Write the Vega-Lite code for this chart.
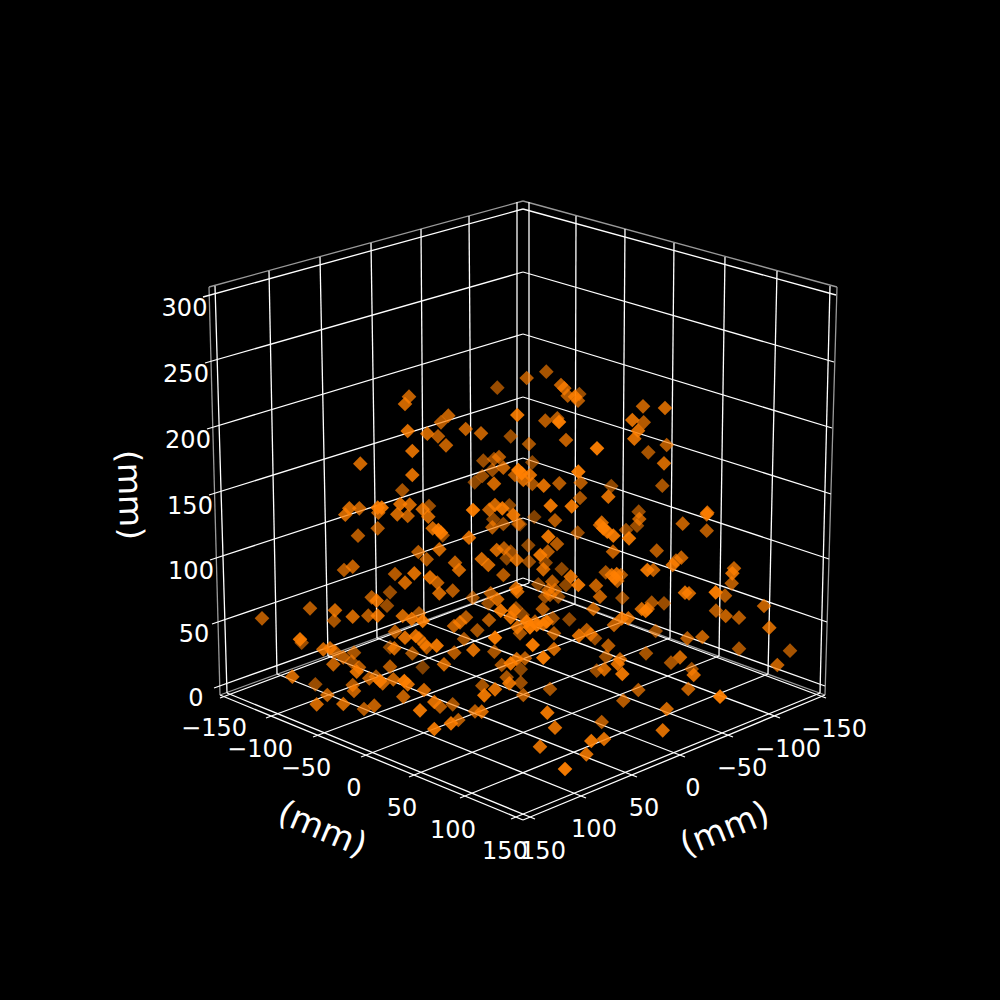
{"$schema":"https://vega.github.io/schema/vega-lite/v6.json","width":1000,"height":1000,"autosize":{"type":"fit","contains":"padding"},"padding":0,"background":"#000000","config":{"view":{"stroke":null},"text":{"font":"DejaVu Sans"}},
"datasets":{
"grid":[
{"u":209,"v":287,"u2":523,"v2":201,"kind":"edge"},{"u":523,"v":201,"u2":837,"v2":287,"kind":"edge"},{"u":209,"v":287,"u2":220,"v2":695,"kind":"edge"},{"u":837,"v":287,"u2":825,"v2":695,"kind":"edge"},{"u":220,"v":695,"u2":523,"v2":585,"kind":"edge"},{"u":523,"v":585,"u2":825,"v2":695,"kind":"edge"},
{"u":220,"v":695,"u2":523,"v2":820,"kind":"line"},{"u":523,"v":820,"u2":825,"v2":695,"kind":"line"},
{"u":215,"v":286,"u2":227,"v2":693,"kind":"line"},{"u":269,"v":271,"u2":277,"v2":674,"kind":"line"},{"u":320,"v":257,"u2":328,"v2":656,"kind":"line"},{"u":371,"v":243,"u2":377,"v2":638,"kind":"line"},{"u":421,"v":229,"u2":424,"v2":622,"kind":"line"},{"u":469,"v":216,"u2":472,"v2":603,"kind":"line"},{"u":517,"v":202,"u2":517,"v2":583,"kind":"line"},
{"u":529,"v":202,"u2":529,"v2":583,"kind":"line"},{"u":576,"v":216,"u2":575,"v2":604,"kind":"line"},{"u":625,"v":229,"u2":622,"v2":622,"kind":"line"},{"u":674,"v":243,"u2":670,"v2":638,"kind":"line"},{"u":725,"v":257,"u2":719,"v2":656,"kind":"line"},{"u":777,"v":271,"u2":768,"v2":674,"kind":"line"},{"u":830,"v":286,"u2":820,"v2":693,"kind":"line"},
{"u":517,"v":583,"u2":826,"v2":698,"kind":"line"},{"u":472,"v":603,"u2":780,"v2":718,"kind":"line"},{"u":424,"v":622,"u2":733,"v2":737,"kind":"line"},{"u":377,"v":638,"u2":685,"v2":757,"kind":"line"},{"u":328,"v":656,"u2":637,"v2":777,"kind":"line"},{"u":277,"v":674,"u2":586,"v2":798,"kind":"line"},{"u":227,"v":693,"u2":535,"v2":819,"kind":"line"},
{"u":529,"v":583,"u2":220,"v2":698,"kind":"line"},{"u":575,"v":604,"u2":266,"v2":718,"kind":"line"},{"u":622,"v":622,"u2":313,"v2":737,"kind":"line"},{"u":670,"v":638,"u2":361,"v2":757,"kind":"line"},{"u":719,"v":656,"u2":409,"v2":777,"kind":"line"},{"u":768,"v":674,"u2":460,"v2":798,"kind":"line"},{"u":820,"v":693,"u2":511,"v2":819,"kind":"line"},
{"u":203,"v":297,"u2":523,"v2":209,"kind":"line"},{"u":523,"v":209,"u2":836,"v2":295,"kind":"line"},{"u":205,"v":363,"u2":523,"v2":272,"kind":"line"},{"u":523,"v":272,"u2":834,"v2":362,"kind":"line"},{"u":207,"v":429,"u2":523,"v2":334,"kind":"line"},{"u":523,"v":334,"u2":832,"v2":428,"kind":"line"},{"u":209,"v":495,"u2":523,"v2":397,"kind":"line"},{"u":523,"v":397,"u2":831,"v2":494,"kind":"line"},{"u":210,"v":560,"u2":523,"v2":458,"kind":"line"},{"u":523,"v":458,"u2":829,"v2":559,"kind":"line"},{"u":212,"v":624,"u2":523,"v2":518,"kind":"line"},{"u":523,"v":518,"u2":827,"v2":622,"kind":"line"},{"u":214,"v":688,"u2":523,"v2":578,"kind":"line"},{"u":523,"v":578,"u2":825,"v2":686,"kind":"line"}
],
"ticks":[
{"u":184.5,"v":307,"t":"300"},{"u":186,"v":373,"t":"250"},{"u":188,"v":439,"t":"200"},{"u":190,"v":505,"t":"150"},{"u":191,"v":570,"t":"100"},{"u":194,"v":633,"t":"50"},{"u":196,"v":697,"t":"0"},
{"u":214,"v":727,"t":"−150"},{"u":260,"v":748,"t":"−100"},{"u":306,"v":767,"t":"−50"},{"u":354,"v":787,"t":"0"},{"u":402,"v":807,"t":"50"},{"u":453,"v":829,"t":"100"},{"u":505,"v":850,"t":"150"},
{"u":834,"v":728,"t":"−150"},{"u":788,"v":748,"t":"−100"},{"u":742,"v":767,"t":"−50"},{"u":693,"v":787,"t":"0"},{"u":644,"v":807,"t":"50"},{"u":594,"v":828,"t":"100"},{"u":543,"v":850,"t":"150"}
],
"points":[
{"u":497.3,"v":387.7,"depth":0.6},{"u":409,"v":396.7,"depth":0.75},{"u":405,"v":404,"depth":0.8},{"u":448.3,"v":415.7,"depth":0.75},{"u":441,"v":422.3,"depth":0.7},{"u":517.3,"v":415,"depth":0.9},{"u":407.7,"v":431,"depth":0.85},{"u":427.3,"v":433.7,"depth":0.8},{"u":438,"v":436.3,"depth":0.7},{"u":465.7,"v":429,"depth":0.75},{"u":481,"v":433.3,"depth":0.75},{"u":510.7,"v":436.3,"depth":0.6},{"u":446,"v":445.3,"depth":0.75},{"u":412.3,"v":451,"depth":0.85},{"u":360.3,"v":463.7,"depth":0.8},{"u":483.3,"v":460.7,"depth":0.6},{"u":494,"v":459,"depth":0.6},{"u":499,"v":457,"depth":0.7},{"u":503.3,"v":467.7,"depth":0.75},{"u":492.3,"v":470,"depth":0.6},{"u":412.3,"v":475,"depth":0.85},{"u":482.3,"v":476,"depth":0.6},{"u":474.7,"v":482.3,"depth":0.55},{"u":494,"v":483.7,"depth":0.8},{"u":402.3,"v":490.3,"depth":0.65},{"u":349.3,"v":508.3,"depth":0.8},{"u":345.3,"v":514.7,"depth":0.8},{"u":359.3,"v":508.3,"depth":0.75},{"u":377.7,"v":507.7,"depth":0.9},{"u":381.7,"v":507.7,"depth":0.9},{"u":378.3,"v":512.7,"depth":0.75},{"u":400.3,"v":504,"depth":0.85},{"u":409.7,"v":504.7,"depth":0.8},{"u":397.3,"v":514.3,"depth":0.8},{"u":407.7,"v":516,"depth":0.75},{"u":429,"v":506,"depth":0.6},{"u":422.7,"v":509.3,"depth":0.8},{"u":428.3,"v":516.7,"depth":0.8},{"u":473,"v":510,"depth":0.95},{"u":489.3,"v":509.7,"depth":0.75},{"u":495,"v":505,"depth":0.8},{"u":502.3,"v":508.3,"depth":0.9},{"u":509.3,"v":505.3,"depth":0.55},{"u":513.3,"v":515,"depth":0.9},{"u":493.3,"v":519.3,"depth":0.55},{"u":492.3,"v":527.3,"depth":0.7},{"u":503.3,"v":524,"depth":0.6},{"u":518.3,"v":524,"depth":0.6},{"u":377.7,"v":528.3,"depth":0.7},{"u":358,"v":535.7,"depth":0.7},{"u":432.7,"v":528.3,"depth":0.8},{"u":438.3,"v":530,"depth":0.9},{"u":441,"v":532.7,"depth":0.9},{"u":442.7,"v":535.3,"depth":0.6},{"u":469,"v":537.7,"depth":0.85},{"u":418.3,"v":552,"depth":0.7},{"u":439.3,"v":549.3,"depth":0.8},{"u":426.7,"v":559.3,"depth":0.7},{"u":481.7,"v":559,"depth":0.8},{"u":496.7,"v":550,"depth":0.8},{"u":504,"v":548.3,"depth":0.7},{"u":510.7,"v":551.7,"depth":0.6},{"u":506.7,"v":558.3,"depth":0.55},
{"u":546.3,"v":371.7,"depth":0.65},{"u":526.7,"v":378,"depth":0.7},{"u":561,"v":385,"depth":0.75},{"u":564.3,"v":388.3,"depth":0.75},{"u":567.7,"v":395.7,"depth":0.7},{"u":579.3,"v":394,"depth":0.6},{"u":575,"v":396.7,"depth":0.85},{"u":578,"v":400.7,"depth":0.7},{"u":643,"v":406.3,"depth":0.75},{"u":665,"v":408,"depth":0.8},{"u":545.3,"v":420.7,"depth":0.7},{"u":557.3,"v":418.3,"depth":0.7},{"u":559,"v":422,"depth":0.95},{"u":632.3,"v":420,"depth":0.85},{"u":643.7,"v":422.3,"depth":0.7},{"u":638,"v":430.7,"depth":0.85},{"u":634.3,"v":438.7,"depth":0.85},{"u":566,"v":440,"depth":0.75},{"u":529,"v":444,"depth":0.65},{"u":597,"v":448.3,"depth":0.95},{"u":666.7,"v":445,"depth":0.7},{"u":648.3,"v":452.3,"depth":0.65},{"u":664,"v":463.3,"depth":0.8},{"u":532.3,"v":462.3,"depth":0.55},
{"u":518.3,"v":470,"depth":0.95},{"u":521.7,"v":473.3,"depth":0.95},{"u":523.3,"v":480,"depth":0.8},{"u":515,"v":475,"depth":0.7},{"u":530,"v":475,"depth":0.85},{"u":532.3,"v":484,"depth":0.65},{"u":543.7,"v":485.7,"depth":0.85},{"u":559.3,"v":483.3,"depth":0.7},{"u":578.3,"v":471.7,"depth":0.95},{"u":580.7,"v":482.7,"depth":0.7},{"u":611.3,"v":486,"depth":0.55},{"u":608.3,"v":496.7,"depth":0.85},{"u":662.3,"v":485.7,"depth":0.65},{"u":580,"v":498,"depth":0.65},{"u":550.7,"v":505.7,"depth":0.9},{"u":571.7,"v":506.3,"depth":0.9},{"u":534.3,"v":517,"depth":0.5},{"u":520,"v":524.3,"depth":0.5},{"u":555,"v":520.3,"depth":0.7},{"u":638.7,"v":511.7,"depth":0.6},{"u":639.3,"v":519,"depth":0.75},{"u":637,"v":525.7,"depth":0.6},{"u":707.3,"v":512.7,"depth":0.85},{"u":706.7,"v":514.3,"depth":0.8},{"u":682.7,"v":523.7,"depth":0.75},{"u":706.7,"v":530.7,"depth":0.7},{"u":601.7,"v":522.7,"depth":0.8},{"u":600,"v":525,"depth":0.8},{"u":603.3,"v":528.3,"depth":0.9},{"u":607.3,"v":531.7,"depth":0.9},{"u":613.3,"v":535.7,"depth":0.9},{"u":626,"v":530,"depth":0.6},{"u":629,"v":538.3,"depth":0.9},{"u":577.7,"v":532.7,"depth":0.6},{"u":548.3,"v":536.7,"depth":0.9},{"u":557,"v":544,"depth":0.7},{"u":528.3,"v":545.3,"depth":0.55},{"u":656.7,"v":550.7,"depth":0.7},{"u":613,"v":551.7,"depth":0.75},{"u":547.7,"v":551.7,"depth":0.7},{"u":540.3,"v":555,"depth":0.9},
{"u":516.7,"v":560,"depth":0.8},{"u":529,"v":561.7,"depth":0.6},{"u":545.7,"v":562.7,"depth":0.55},{"u":543.3,"v":569.3,"depth":0.8},{"u":488.3,"v":565,"depth":0.8},{"u":455,"v":562.7,"depth":0.75},{"u":459,"v":570,"depth":0.8},{"u":503.3,"v":575,"depth":0.7},{"u":561.7,"v":569,"depth":0.55},{"u":570.7,"v":576.7,"depth":0.85},{"u":578.3,"v":585,"depth":0.9},{"u":566,"v":585,"depth":0.55},{"u":552.3,"v":581.7,"depth":0.7},{"u":538.3,"v":584.3,"depth":0.55},{"u":555,"v":590,"depth":0.6},{"u":548.3,"v":590,"depth":0.7},{"u":550,"v":595,"depth":0.65},{"u":558.3,"v":596.7,"depth":0.55},{"u":545,"v":596.7,"depth":0.6},{"u":516,"v":588.3,"depth":0.8},{"u":517.3,"v":591.7,"depth":0.8},{"u":452.7,"v":590.7,"depth":0.7},{"u":472.7,"v":597.7,"depth":0.6},{"u":490.7,"v":593.3,"depth":0.7},{"u":497.3,"v":599.3,"depth":0.8},{"u":488.3,"v":603.3,"depth":0.6},{"u":500.7,"v":610.7,"depth":0.9},{"u":516,"v":608.3,"depth":0.6},{"u":514,"v":610.7,"depth":0.8},{"u":522.7,"v":615,"depth":0.55},{"u":510.7,"v":617.3,"depth":0.85},{"u":542.7,"v":609,"depth":0.7},{"u":569.3,"v":619.3,"depth":0.55},{"u":489,"v":620,"depth":0.7},{"u":477.3,"v":630.3,"depth":0.65},{"u":466,"v":617.3,"depth":0.7},{"u":460,"v":622.3,"depth":0.8},{"u":454,"v":626,"depth":0.75},{"u":464,"v":639,"depth":0.65},{"u":495,"v":637.7,"depth":0.95},{"u":517.3,"v":627.3,"depth":0.8},{"u":520,"v":633.3,"depth":0.65},{"u":526.7,"v":621.7,"depth":0.95},{"u":530,"v":627.3,"depth":0.95},{"u":536.7,"v":625,"depth":0.9},{"u":535,"v":621.7,"depth":0.7},{"u":546.7,"v":621.7,"depth":0.9},{"u":552.7,"v":618.3,"depth":0.6},{"u":543.3,"v":624,"depth":0.8},{"u":554,"v":633.3,"depth":0.7},{"u":532.7,"v":645,"depth":0.95},{"u":554,"v":649,"depth":0.8},{"u":473.3,"v":650,"depth":0.85},{"u":494.3,"v":651.7,"depth":0.65},
{"u":344,"v":570,"depth":0.7},{"u":352.7,"v":566.7,"depth":0.75},{"u":395,"v":574,"depth":0.7},{"u":414.3,"v":573.3,"depth":0.85},{"u":405,"v":582.7,"depth":0.8},{"u":430,"v":577.3,"depth":0.85},{"u":437.3,"v":582.7,"depth":0.75},{"u":439.3,"v":593.3,"depth":0.8},{"u":390,"v":592.3,"depth":0.6},{"u":371.7,"v":597.3,"depth":0.7},{"u":376.7,"v":600.7,"depth":0.85},{"u":387,"v":605.7,"depth":0.6},{"u":310,"v":608.3,"depth":0.7},{"u":262,"v":618.3,"depth":0.7},{"u":335,"v":610.3,"depth":0.8},{"u":334,"v":620.7,"depth":0.65},{"u":352.7,"v":616.7,"depth":0.8},{"u":368.3,"v":615.7,"depth":0.7},{"u":377.7,"v":615.7,"depth":0.85},{"u":402.7,"v":616,"depth":0.8},{"u":411.7,"v":619,"depth":0.85},{"u":419,"v":613.3,"depth":0.65},{"u":422.7,"v":621,"depth":0.9},{"u":395,"v":631.7,"depth":0.7},{"u":405,"v":637.7,"depth":0.85},{"u":415.7,"v":636,"depth":0.85},{"u":419,"v":638.3,"depth":0.7},{"u":390,"v":647.3,"depth":0.55},{"u":394.3,"v":648.3,"depth":0.8},{"u":424.3,"v":644,"depth":0.8},{"u":426.7,"v":647.3,"depth":0.7},{"u":436.7,"v":645.7,"depth":0.9},{"u":412.3,"v":653.3,"depth":0.65},{"u":454.3,"v":652.7,"depth":0.7},{"u":300,"v":639.3,"depth":0.9},{"u":301.7,"v":642.7,"depth":0.6},{"u":323.3,"v":649.3,"depth":0.8},{"u":330,"v":648.3,"depth":0.8},{"u":335,"v":651.7,"depth":0.7},{"u":354,"v":652.7,"depth":0.65},{"u":343.3,"v":657.3,"depth":0.7},{"u":351.7,"v":661.7,"depth":0.6},{"u":333.3,"v":664.3,"depth":0.75},{"u":359,"v":667.3,"depth":0.7},{"u":356.7,"v":671.7,"depth":0.85},{"u":390,"v":666.7,"depth":0.7},{"u":422.7,"v":667.3,"depth":0.5},{"u":444,"v":664.3,"depth":0.8},{"u":292.3,"v":676.7,"depth":0.8},{"u":315.3,"v":684.3,"depth":0.6},{"u":369.3,"v":678.3,"depth":0.7},{"u":376,"v":676.7,"depth":0.65},{"u":380,"v":681,"depth":0.85},{"u":382.7,"v":683.3,"depth":0.75},{"u":393.3,"v":679.3,"depth":0.75},{"u":404.3,"v":681,"depth":0.95},{"u":407.7,"v":684.3,"depth":0.85},{"u":352.7,"v":685,"depth":0.7},{"u":354,"v":691,"depth":0.75},{"u":327.3,"v":695,"depth":0.75},{"u":316.7,"v":704.3,"depth":0.8},{"u":343.3,"v":704,"depth":0.8},{"u":364,"v":709,"depth":0.7},{"u":374.3,"v":705.7,"depth":0.75},{"u":424,"v":690,"depth":0.8},{"u":403.3,"v":696.7,"depth":0.75},{"u":420,"v":710.3,"depth":0.9},{"u":434.3,"v":702,"depth":0.85},{"u":440,"v":706.7,"depth":0.7},{"u":452.7,"v":704.3,"depth":0.65},{"u":434.3,"v":729,"depth":0.9},{"u":451,"v":723.3,"depth":0.9},{"u":458.3,"v":720,"depth":0.7},{"u":475,"v":711.3,"depth":0.7},{"u":481.7,"v":711.7,"depth":0.8},{"u":482.3,"v":685.7,"depth":0.65},{"u":484.3,"v":695.3,"depth":0.9},{"u":495,"v":689.3,"depth":0.85},{"u":501.7,"v":665,"depth":0.65},{"u":510.7,"v":663.3,"depth":0.9},{"u":516.7,"v":659,"depth":0.8},{"u":525,"v":658.3,"depth":0.7},{"u":506.7,"v":677.3,"depth":0.65},{"u":509.3,"v":683.3,"depth":0.85},{"u":520.7,"v":669.3,"depth":0.55},{"u":520.7,"v":682.7,"depth":0.6},{"u":523.3,"v":695,"depth":0.7},{"u":550,"v":689,"depth":0.65},{"u":543.3,"v":657.7,"depth":0.95},
{"u":605.7,"v":572.3,"depth":0.65},{"u":611.7,"v":575,"depth":0.8},{"u":616.7,"v":574,"depth":0.85},{"u":621,"v":575,"depth":0.65},{"u":615,"v":578.3,"depth":0.85},{"u":617.3,"v":581,"depth":0.7},{"u":596,"v":585.7,"depth":0.75},{"u":600,"v":596.7,"depth":0.75},{"u":622.3,"v":598,"depth":0.6},{"u":647.3,"v":570,"depth":0.9},{"u":653.3,"v":570,"depth":0.75},{"u":672.7,"v":565,"depth":0.85},{"u":681.3,"v":557.7,"depth":0.75},{"u":676,"v":560.7,"depth":0.7},{"u":734,"v":568.3,"depth":0.75},{"u":732.3,"v":573.3,"depth":0.85},{"u":731.7,"v":583.3,"depth":0.7},{"u":685,"v":592.7,"depth":0.85},{"u":689,"v":593.3,"depth":0.8},{"u":715.7,"v":592.3,"depth":0.95},{"u":725,"v":595.7,"depth":0.7},{"u":764,"v":606,"depth":0.75},{"u":716,"v":610.7,"depth":0.7},{"u":725.7,"v":616,"depth":0.75},{"u":739,"v":617.7,"depth":0.7},{"u":769.3,"v":627.7,"depth":0.8},{"u":651.7,"v":602.7,"depth":0.65},{"u":664,"v":603.3,"depth":0.6},{"u":641.7,"v":609,"depth":0.8},{"u":645.7,"v":611,"depth":0.9},{"u":647.7,"v":609,"depth":0.75},{"u":593.3,"v":609,"depth":0.75},{"u":579,"v":635.7,"depth":0.85},{"u":586.7,"v":630,"depth":0.7},{"u":590.7,"v":634.3,"depth":0.7},{"u":595,"v":638.3,"depth":0.6},{"u":614,"v":625,"depth":0.75},{"u":621.7,"v":618.3,"depth":0.85},{"u":628.3,"v":618.3,"depth":0.8},{"u":655.7,"v":631,"depth":0.6},{"u":687.3,"v":638.3,"depth":0.7},{"u":702.3,"v":637,"depth":0.75},{"u":739,"v":648.7,"depth":0.65},{"u":790,"v":650.7,"depth":0.65},{"u":777.3,"v":665,"depth":0.75},{"u":608.3,"v":645.7,"depth":0.7},{"u":646,"v":653.3,"depth":0.65},{"u":606,"v":656.7,"depth":0.6},{"u":620,"v":659.3,"depth":0.75},{"u":617.7,"v":664,"depth":0.85},{"u":671,"v":662.7,"depth":0.65},{"u":680,"v":657.3,"depth":0.8},{"u":596.7,"v":670.7,"depth":0.6},{"u":604.3,"v":669.3,"depth":0.8},{"u":622.3,"v":674,"depth":0.9},{"u":691.7,"v":669,"depth":0.6},{"u":693.7,"v":675,"depth":0.85},{"u":638.3,"v":690,"depth":0.7},{"u":623.3,"v":700.7,"depth":0.7},{"u":688.3,"v":689,"depth":0.75},{"u":720,"v":696.7,"depth":0.95},{"u":666.7,"v":709,"depth":0.8},{"u":547.3,"v":712.7,"depth":0.9},{"u":601.7,"v":722,"depth":0.7},{"u":555,"v":727.7,"depth":0.85},{"u":662.7,"v":730.3,"depth":0.85},{"u":604,"v":739,"depth":0.85},{"u":591.3,"v":741,"depth":0.9},{"u":540,"v":746.7,"depth":0.85},{"u":586.3,"v":754.3,"depth":0.85},{"u":565,"v":769,"depth":0.95}
]},
"encoding":{"x":{"field":"u","type":"quantitative","scale":{"domain":[0,1000],"nice":false,"zero":false},"axis":null},"y":{"field":"v","type":"quantitative","scale":{"domain":[1000,0],"nice":false,"zero":false},"axis":null}},
"layer":[
{"data":{"name":"grid"},"mark":{"type":"rule","strokeWidth":1.3},"encoding":{"x2":{"field":"u2"},"y2":{"field":"v2"},"color":{"field":"kind","type":"nominal","scale":{"domain":["edge","line"],"range":["#999999","#ffffff"]},"legend":null}}},
{"data":{"name":"points"},"mark":{"type":"point","shape":"diamond","filled":true,"size":215,"color":"#ff7f00","strokeWidth":0},"encoding":{"opacity":{"field":"depth","type":"quantitative","scale":{"domain":[0,1],"range":[0,1]},"legend":null}}},
{"data":{"name":"ticks"},"mark":{"type":"text","fontSize":24,"color":"#ffffff","align":"center","baseline":"middle","dy":2,"font":"DejaVu Sans"},"encoding":{"text":{"field":"t","type":"nominal"}}},
{"data":{"values":[{"u":322,"v":830,"t":"(mm)"}]},"mark":{"type":"text","fontSize":34,"color":"#ffffff","align":"center","baseline":"middle","angle":23,"font":"DejaVu Sans"},"encoding":{"text":{"field":"t","type":"nominal"}}},
{"data":{"values":[{"u":725,"v":830,"t":"(mm)"}]},"mark":{"type":"text","fontSize":34,"color":"#ffffff","align":"center","baseline":"middle","angle":338,"font":"DejaVu Sans"},"encoding":{"text":{"field":"t","type":"nominal"}}},
{"data":{"values":[{"u":129,"v":495,"t":"(mm)"}]},"mark":{"type":"text","fontSize":33,"color":"#ffffff","align":"center","baseline":"middle","angle":88,"font":"DejaVu Sans"},"encoding":{"text":{"field":"t","type":"nominal"}}}
]}
